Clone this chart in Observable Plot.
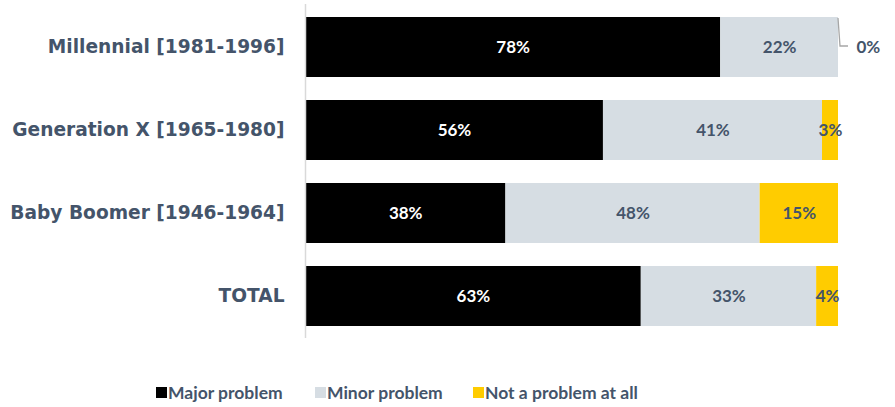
<!DOCTYPE html>
<html>
<head>
<meta charset="utf-8">
<script src="https://cdn.jsdelivr.net/npm/d3@7"></script>
<script src="https://cdn.jsdelivr.net/npm/@observablehq/plot@0.6"></script>
<style>
  html, body { margin: 0; padding: 0; background: #fff; }
  body { width: 895px; height: 407px; overflow: hidden; font-family: "Lato", "DejaVu Sans", sans-serif; }
  #legend { position: absolute; top: 380px; left: 0; width: 895px; height: 24px; font-weight: 700; font-size: 17.5px; color: #44546a; }
  .item { position: absolute; top: 0; display: flex; align-items: center; height: 24px; }
  .sw { width: 11px; height: 11px; margin-right: 1px; display: inline-block; }
</style>
</head>
<body>
<div id="chart"></div>
<div id="legend"></div>
<script>
const categories = ["Millennial [1981-1996]", "Generation X [1965-1980]", "Baby Boomer [1946-1964]", "TOTAL"];
const seriesNames = ["Major problem", "Minor problem", "Not a problem at all"];
const majorProblem = [77.9, 55.9, 37.6, 63.0];
const minorProblem = [22.1, 41.1, 47.7, 32.9];
const notAProblem = [0.0, 3.0, 14.7, 4.1];
const seriesColors = ["#000000", "#d6dde3", "#ffcc00"];
const labelColors = ["#ffffff", "#44546a", "#44546a"];
const textColor = "#44546a";

const seriesValues = [majorProblem, minorProblem, notAProblem];
const rows = [];
categories.forEach((c, i) => {
  let start = 0;
  seriesNames.forEach((s, j) => {
    const v = seriesValues[j][i];
    rows.push({category: c, series: s, value: v, x1: start, x2: start + v, si: j});
    start += v;
  });
});
const inside = rows.filter(d => d.value >= 1);
const outside = rows.filter(d => d.value < 1);

const plot = Plot.plot({
  width: 895,
  height: 345,
  marginLeft: 305,
  marginRight: 57,
  marginTop: 4,
  marginBottom: 7,
  style: {fontFamily: "Lato, 'DejaVu Sans', sans-serif", background: "#fff"},
  x: {domain: [0, 100], axis: null},
  y: {domain: categories, paddingInner: 0.28, paddingOuter: 0.14, align: 0.5, label: null, axis: null},
  color: {domain: seriesNames, range: seriesColors},
  marks: [
    Plot.barX(rows, {x1: "x1", x2: "x2", y: "category", fill: "series"}),
    Plot.ruleX([0], {stroke: "#d9d9d9", strokeWidth: 1.5}),
    Plot.axisY({tickSize: 0, tickPadding: 21, fontSize: 18.6, fontWeight: 700, fill: textColor, label: null,
      fontFamily: "'DejaVu Sans', sans-serif"}),
    Plot.text(inside, {
      x: d => (d.x1 + d.x2) / 2, y: "category",
      text: d => Math.round(d.value) + "%",
      fill: d => labelColors[d.si],
      fontSize: 17, fontWeight: 700
    }),
    Plot.text(outside, {
      x: "x2", y: "category",
      text: d => Math.round(d.value) + "%",
      dx: 18, textAnchor: "start",
      fill: textColor, fontSize: 17, fontWeight: 700
    })
  ]
});
document.getElementById("chart").appendChild(plot);

// leader line for the outside label, placed through the plot's own scales
const xs = plot.scale("x"), ys = plot.scale("y");
const svg = d3.select(plot);
outside.forEach(d => {
  const x = xs.apply(d.x2);
  const top = ys.apply(d.category);
  const mid = top + ys.bandwidth / 2;
  svg.append("path")
    .attr("d", `M${x},${top + 1} L${x + 2},${mid - 1} L${x + 10},${mid - 1}`)
    .attr("fill", "none").attr("stroke", "#a6a6a6").attr("stroke-width", 1.3);
});

// legend
const legend = document.getElementById("legend");
const legendX = [156, 315, 473];
seriesNames.forEach((s, j) => {
  const it = document.createElement("div");
  it.className = "item";
  it.style.left = legendX[j] + "px";
  it.innerHTML = `<span class="sw" style="background:${seriesColors[j]}"></span><span>${s}</span>`;
  legend.appendChild(it);
});
</script>
</body>
</html>
